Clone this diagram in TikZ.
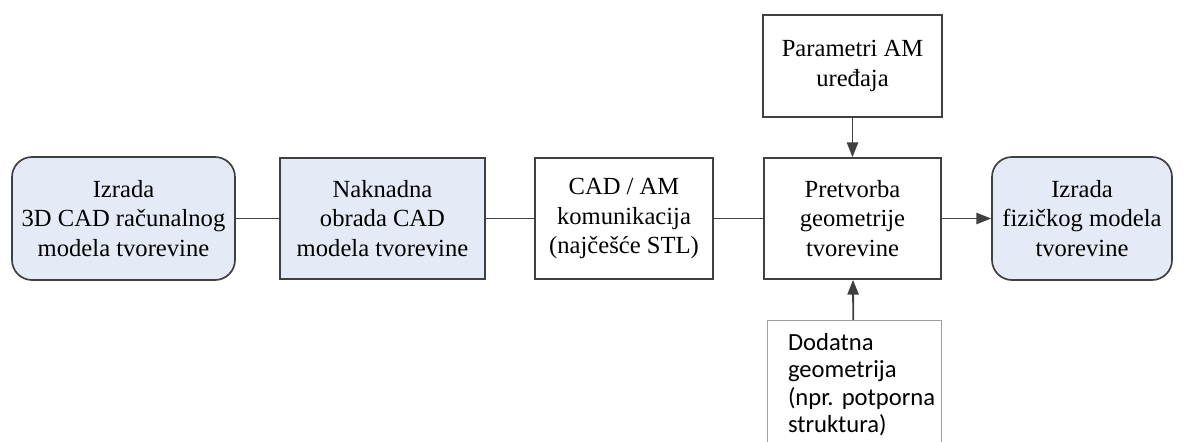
\documentclass[tikz,border=0pt]{standalone}
\usepackage{fontspec}
\setmainfont{Liberation Serif}
\newfontfamily\calibrifont{Carlito}
\usetikzlibrary{arrows.meta, positioning}
\definecolor{plava}{RGB}{228,235,247}
\definecolor{linija}{RGB}{64,64,64}
\newcommand{\uvlaka}{\hspace*{0.475cm}}
\tikzstyle{blok}=[draw=linija,line width=1.2pt,align=center,inner sep=0pt,font=\fontsize{17.5}{20.8}\selectfont]
\tikzstyle{zaobljen}=[blok,fill=plava,rounded corners=0.5cm]
\tikzstyle{veza}=[draw=linija,line width=1.3pt]
\tikzstyle{strelica}=[veza,-{Triangle[length=10.5pt,width=8pt]}]

\begin{document}
\begin{tikzpicture}[x=0.025cm,y=-0.025cm]
                    \clip (0,0) rectangle (1184,441);
                    \fill[white] (0,0) rectangle (1184,441);
                    % glavni niz blokova
                    \node[zaobljen,minimum width=223*0.025cm,minimum height=123*0.025cm] (izrada) at (123.5,218.5) {Izrada\\3D CAD računalnog\\modela tvorevine};
                    \node[blok,fill=plava,minimum width=205*0.025cm,minimum height=121*0.025cm] (naknadna) at (382.5,218.5) {Naknadna\\obrada CAD\\modela tvorevine};
                    \node[blok,minimum width=178*0.025cm,minimum height=121*0.025cm] (komunikacija) at (624,218.5) {CAD / AM\\komunikacija\\(najčešće STL)};
                    \node[blok,minimum width=177*0.025cm,minimum height=121*0.025cm] (pretvorba) at (852.5,218.5) {Pretvorba\\geometrije\\tvorevine};
                    \node[zaobljen,minimum width=180*0.025cm,minimum height=123*0.025cm] (fizicki) at (1082,218.5) {Izrada\\fizičkog modela\\tvorevine};
                    % ulazi u pretvorbu
                    \node[blok,minimum width=179*0.025cm,minimum height=102*0.025cm] (parametri) at (852.5,66) {Parametri AM\\uređaja};
                    \node[draw=black!38,line width=0.6pt,anchor=north,text width=170*0.025cm,inner xsep=2*0.025cm,inner ysep=13*0.025cm,align=left,font=\calibrifont\fontsize{17.5}{19.4}\selectfont] (dodatna) at (854,320) {\uvlaka Dodatna\\\uvlaka geometrija\\\uvlaka (npr.\ potporna\\\uvlaka struktura)\rule[-40pt]{0pt}{1pt}};
                    \draw[veza] (izrada) -- (naknadna);
                    \draw[veza] (naknadna) -- (komunikacija);
                    \draw[veza] (komunikacija) -- (pretvorba);
                    \draw[strelica] (pretvorba) -- (fizicki);
                    \draw[strelica] (parametri) -- (pretvorba);
                    \draw[strelica] (dodatna) -- (pretvorba);
                \end{tikzpicture}
\end{document}
